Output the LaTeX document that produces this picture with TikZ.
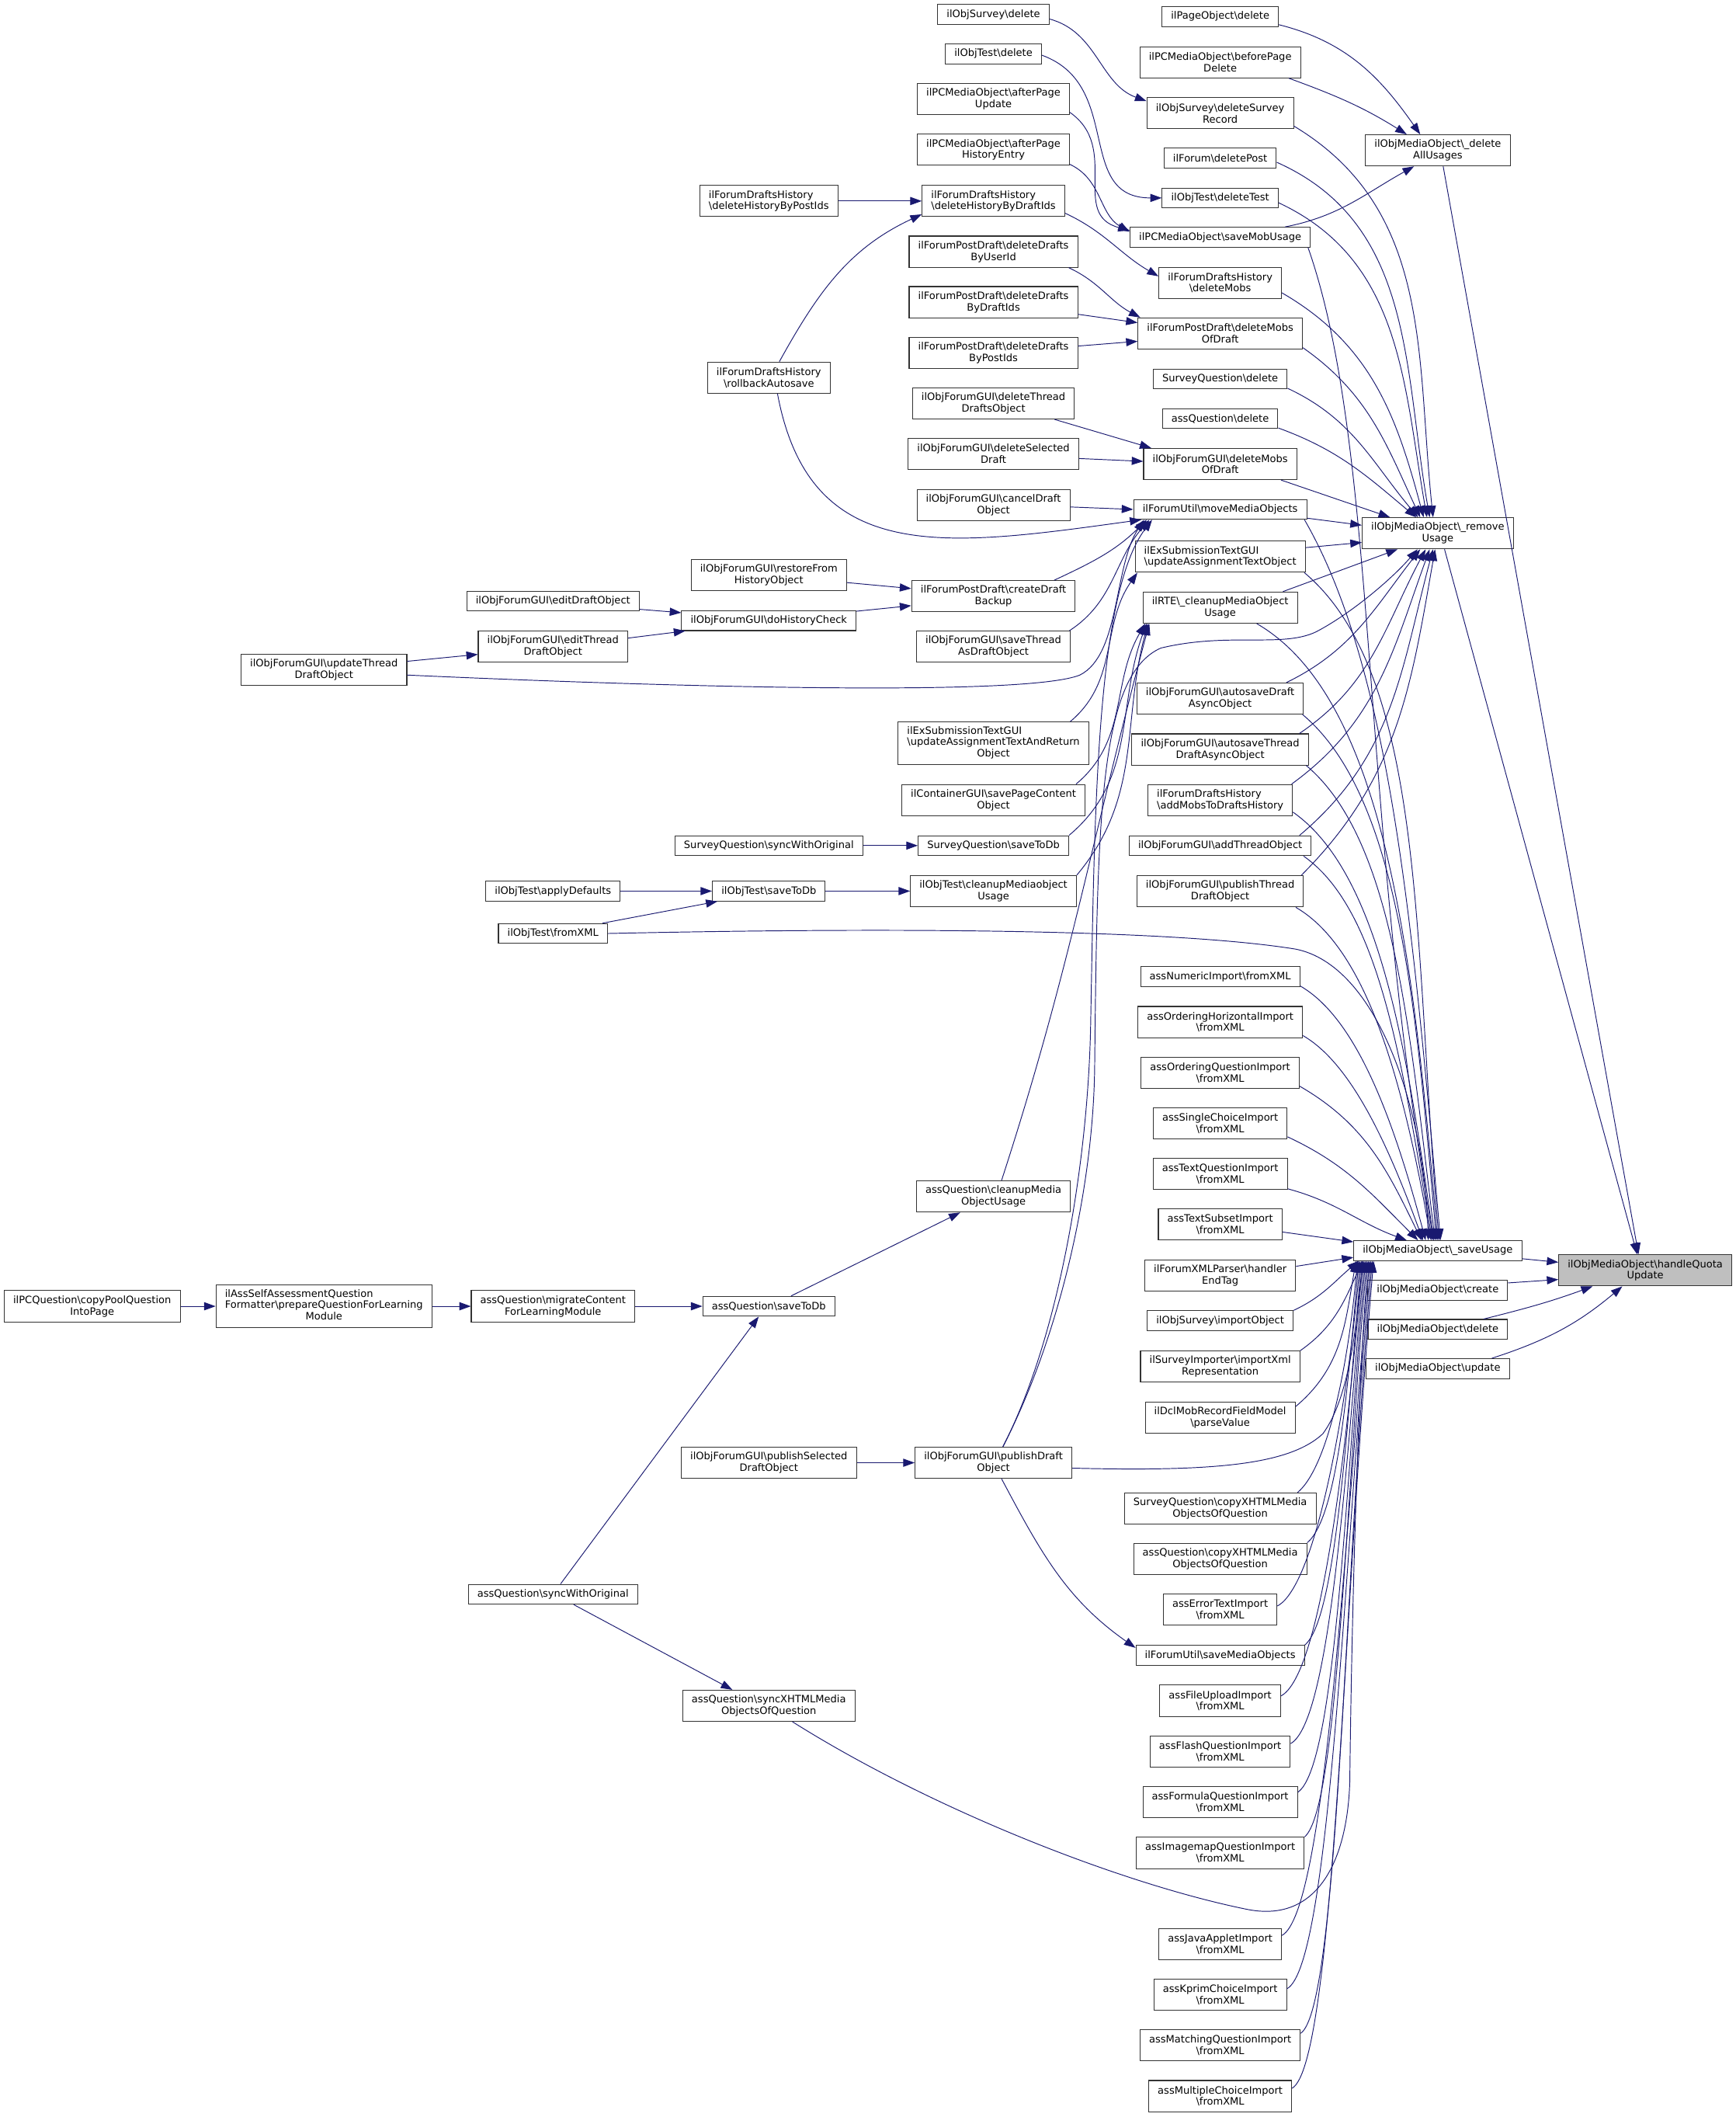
\documentclass[tikz,border=0pt]{standalone}
\usepackage{fontspec}
\setmainfont{DejaVu Sans}
\usetikzlibrary{positioning,arrows.meta}
\definecolor{edgeblue}{HTML}{191970}
\definecolor{hqgray}{HTML}{BFBFBF}
\newcommand{\bsl}{\textbackslash}
\tikzstyle{fn} = [draw=black!80, line width=0.6pt, fill=white, rectangle, inner xsep=6.7pt, inner ysep=1pt, minimum height=14.7pt, font=\fontsize{7.5}{8.5}\selectfont]
\tikzstyle{fn2} = [fn, minimum height=23.1pt, align=center]
\tikzstyle{fnl} = [fn2, align=left]
\tikzstyle{fn3} = [fn, minimum height=31.3pt]
\tikzstyle{call} = [draw=edgeblue, line width=0.55pt, -{Triangle[length=8.5pt,width=6pt]}]
\tikzstyle{tosave} = [out looseness=0.6, in looseness=1.1]

\begin{document}
\begin{tikzpicture}[x=1pt, y=1pt]
        \useasboundingbox (0,0) rectangle (1286,-1568);

        % the function and its direct callers
        \node [fn2, fill=hqgray] (hq) at (1218.9,-940.9) {ilObjMediaObject\bsl handleQuota\\Update};
        \node [fn2] (delAll) at (1065.2,-111.4) {ilObjMediaObject\bsl\_delete\\AllUsages};
        \node [fn2, below of=delAll, node distance=283.6pt] (remove) {ilObjMediaObject\bsl\_remove\\Usage};
        \node [fn] (save) at (1065.2,-926.3) {ilObjMediaObject\bsl\_saveUsage};
        \node [fn, below of=save, node distance=29.3pt] (create) {ilObjMediaObject\bsl create};
        \node [fn, below of=create, node distance=29pt] (delete) {ilObjMediaObject\bsl delete};
        \node [fn, below of=delete, node distance=29.1pt] (update) {ilObjMediaObject\bsl update};

        % callers of _deleteAllUsages, _removeUsage and _saveUsage
        \node [fn] (pageDel) at (904,-12.3) {ilPageObject\bsl delete};
        \node [fn2, below of=pageDel, node distance=33.8pt] (pcBefore) {ilPCMediaObject\bsl beforePage\\Delete};
        \node [fn2, below of=pcBefore, node distance=37.8pt] (survDelRec) {ilObjSurvey\bsl deleteSurvey\\Record};
        \node [fn, below of=survDelRec, node distance=33.3pt] (forumDelPost) {ilForum\bsl deletePost};
        \node [fn, below of=forumDelPost, node distance=29.4pt] (testDelTest) {ilObjTest\bsl deleteTest};
        \node [fn, below of=testDelTest, node distance=29.1pt] (pcSaveMob) {ilPCMediaObject\bsl saveMobUsage};
        \node [fn2, below of=pcSaveMob, node distance=33.8pt] (fdhDelMobs) {ilForumDraftsHistory\\\bsl deleteMobs};
        \node [fn2, below of=fdhDelMobs, node distance=37.5pt] (fpdDelMobs) {ilForumPostDraft\bsl deleteMobs\\OfDraft};
        \node [fn, below of=fpdDelMobs, node distance=33.6pt] (sqDelete) {SurveyQuestion\bsl delete};
        \node [fn, below of=sqDelete, node distance=29.4pt] (aqDelete) {assQuestion\bsl delete};
        \node [fn2, below of=aqDelete, node distance=33.7pt] (fguiDelMobs) {ilObjForumGUI\bsl deleteMobs\\OfDraft};
        \node [fn, below of=fguiDelMobs, node distance=33.6pt] (fuMove) {ilForumUtil\bsl moveMediaObjects};
        \node [fnl, below of=fuMove, node distance=35pt] (exUpdText) {ilExSubmissionTextGUI\\\bsl updateAssignmentTextObject};
        \node [fn2, below of=exUpdText, node distance=37.7pt] (rteClean) {ilRTE\bsl\_cleanupMediaObject\\Usage};
        \node [fn2, below of=rteClean, node distance=67.4pt] (autosaveDraft) {ilObjForumGUI\bsl autosaveDraft\\AsyncObject};
        \node [fn2, below of=autosaveDraft, node distance=37.7pt] (autosaveThread) {ilObjForumGUI\bsl autosaveThread\\DraftAsyncObject};
        \node [fnl, below of=autosaveThread, node distance=37.5pt] (fdhAddMobs) {ilForumDraftsHistory\\\bsl addMobsToDraftsHistory};
        \node [fn, below of=fdhAddMobs, node distance=33.8pt] (addThread) {ilObjForumGUI\bsl addThreadObject};
        \node [fn2, below of=addThread, node distance=33.8pt] (publishThread) {ilObjForumGUI\bsl publishThread\\DraftObject};
        \node [fn, below of=publishThread, node distance=63.1pt] (numImport) {assNumericImport\bsl fromXML};
        \node [fn2, below of=numImport, node distance=33.7pt] (ordHorz) {assOrderingHorizontalImport\\\bsl fromXML};
        \node [fn2, below of=ordHorz, node distance=37.5pt] (ordQ) {assOrderingQuestionImport\\\bsl fromXML};
        \node [fn2, below of=ordQ, node distance=37.5pt] (singleChoice) {assSingleChoiceImport\\\bsl fromXML};
        \node [fn2, below of=singleChoice, node distance=37.5pt] (textQ) {assTextQuestionImport\\\bsl fromXML};
        \node [fn2, below of=textQ, node distance=37.5pt] (textSubset) {assTextSubsetImport\\\bsl fromXML};
        \node [fn2, below of=textSubset, node distance=37.7pt] (forumXML) {ilForumXMLParser\bsl handler\\EndTag};
        \node [fn, below of=forumXML, node distance=33.5pt] (survImport) {ilObjSurvey\bsl importObject};
        \node [fn2, below of=survImport, node distance=34pt] (survImporter) {ilSurveyImporter\bsl importXml\\Representation};
        \node [fn2, below of=survImporter, node distance=37.6pt] (dclMob) {ilDclMobRecordFieldModel\\\bsl parseValue};
        \node [fn2, below of=dclMob, node distance=67.5pt] (sqCopy) {SurveyQuestion\bsl copyXHTMLMedia\\ObjectsOfQuestion};
        \node [fn2, below of=sqCopy, node distance=37.2pt] (aqCopy) {assQuestion\bsl copyXHTMLMedia\\ObjectsOfQuestion};
        \node [fn2, below of=aqCopy, node distance=37.7pt] (errText) {assErrorTextImport\\\bsl fromXML};
        \node [fn, below of=errText, node distance=33.8pt] (fuSaveMedia) {ilForumUtil\bsl saveMediaObjects};
        \node [fn2, below of=fuSaveMedia, node distance=33.7pt] (fileUpload) {assFileUploadImport\\\bsl fromXML};
        \node [fn2, below of=fileUpload, node distance=37.7pt] (flash) {assFlashQuestionImport\\\bsl fromXML};
        \node [fn2, below of=flash, node distance=37.5pt] (formula) {assFormulaQuestionImport\\\bsl fromXML};
        \node [fn2, below of=formula, node distance=37.5pt] (imagemap) {assImagemapQuestionImport\\\bsl fromXML};
        \node [fn2, below of=imagemap, node distance=67.6pt] (javaApplet) {assJavaAppletImport\\\bsl fromXML};
        \node [fn2, below of=javaApplet, node distance=37.3pt] (kprim) {assKprimChoiceImport\\\bsl fromXML};
        \node [fn2, below of=kprim, node distance=37.7pt] (matching) {assMatchingQuestionImport\\\bsl fromXML};
        \node [fn2, below of=matching, node distance=37.5pt] (multipleChoice) {assMultipleChoiceImport\\\bsl fromXML};

        % next column to the left
        \node [fn] (survDelete) at (736,-10.7) {ilObjSurvey\bsl delete};
        \node [fn, below of=survDelete, node distance=29.2pt] (testDelete) {ilObjTest\bsl delete};
        \node [fn2, below of=testDelete, node distance=33.5pt] (pcAfterUpdate) {ilPCMediaObject\bsl afterPage\\Update};
        \node [fn2, below of=pcAfterUpdate, node distance=37.5pt] (pcAfterHist) {ilPCMediaObject\bsl afterPage\\HistoryEntry};
        \node [fnl, below of=pcAfterHist, node distance=38pt] (fdhDelByDraft) {ilForumDraftsHistory\\\bsl deleteHistoryByDraftIds};
        \node [fn2, below of=fdhDelByDraft, node distance=37.5pt] (fpdByUser) {ilForumPostDraft\bsl deleteDrafts\\ByUserId};
        \node [fn2, below of=fpdByUser, node distance=37.4pt] (fpdByDraft) {ilForumPostDraft\bsl deleteDrafts\\ByDraftIds};
        \node [fn2, below of=fpdByDraft, node distance=37.5pt] (fpdByPost) {ilForumPostDraft\bsl deleteDrafts\\ByPostIds};
        \node [fn2, below of=fpdByPost, node distance=37.5pt] (fguiDelThread) {ilObjForumGUI\bsl deleteThread\\DraftsObject};
        \node [fn2, below of=fguiDelThread, node distance=37.4pt] (fguiDelSel) {ilObjForumGUI\bsl deleteSelected\\Draft};
        \node [fn2, below of=fguiDelSel, node distance=37.8pt] (fguiCancel) {ilObjForumGUI\bsl cancelDraft\\Object};
        \node [fn2, below of=fguiCancel, node distance=67.6pt] (fpdCreateBackup) {ilForumPostDraft\bsl createDraft\\Backup};
        \node [fn2, below of=fpdCreateBackup, node distance=37.4pt] (fguiSaveThread) {ilObjForumGUI\bsl saveThread\\AsDraftObject};
        \node [fn3, below of=fguiSaveThread, node distance=71.4pt] (exUpdTextReturn) {\begin{tabular}{@{}l@{}}ilExSubmissionTextGUI\\\bsl updateAssignmentTextAndReturn\\\multicolumn{1}{@{}c@{}}{Object}\end{tabular}};
        \node [fn2, below of=exUpdTextReturn, node distance=42.2pt] (containerSave) {ilContainerGUI\bsl savePageContent\\Object};
        \node [fn, below of=containerSave, node distance=33.7pt] (sqSaveToDb) {SurveyQuestion\bsl saveToDb};
        \node [fn2, below of=sqSaveToDb, node distance=33.7pt] (testCleanup) {ilObjTest\bsl cleanupMediaobject\\Usage};
        \node [fn2, below of=testCleanup, node distance=226.2pt] (aqCleanup) {assQuestion\bsl cleanupMedia\\ObjectUsage};
        \node [fn2, below of=aqCleanup, node distance=197.2pt] (fguiPublishDraft) {ilObjForumGUI\bsl publishDraft\\Object};

        \node [fnl, left of=fdhDelByDraft, node distance=166.4pt] (fdhDelByPost) {ilForumDraftsHistory\\\bsl deleteHistoryByPostIds};
        \node [fn2, below of=fdhDelByPost, node distance=130.8pt] (fdhRollback) {ilForumDraftsHistory\\\bsl rollbackAutosave};
        \node [fn2, below of=fdhRollback, node distance=146.3pt] (fguiRestore) {ilObjForumGUI\bsl restoreFrom\\HistoryObject};
        \node [fn, below of=fguiRestore, node distance=33.7pt] (fguiHistCheck) {ilObjForumGUI\bsl doHistoryCheck};
        \node [fn, left of=sqSaveToDb, node distance=166.4pt] (sqSync) {SurveyQuestion\bsl syncWithOriginal};
        \node [fn, left of=testCleanup, node distance=166.4pt] (testSaveToDb) {ilObjTest\bsl saveToDb};
        \node [fn] (aqSaveToDb) at (569.6,-967.5) {assQuestion\bsl saveToDb};
        \node [fn2, left of=fguiPublishDraft, node distance=166.4pt] (fguiPublishSel) {ilObjForumGUI\bsl publishSelected\\DraftObject};
        \node [fn2, below of=fguiPublishSel, node distance=180pt] (aqSyncXHTML) {assQuestion\bsl syncXHTMLMedia\\ObjectsOfQuestion};

        \node [fn] (fguiEditDraft) at (409.7,-445.3) {ilObjForumGUI\bsl editDraftObject};
        \node [fn2, below of=fguiEditDraft, node distance=33.7pt] (fguiEditThread) {ilObjForumGUI\bsl editThread\\DraftObject};
        \node [fn, left of=testSaveToDb, node distance=159.9pt] (testApply) {ilObjTest\bsl applyDefaults};
        \node [fn, below of=testApply, node distance=31.4pt] (testFromXML) {ilObjTest\bsl fromXML};
        \node [fn2, left of=aqSaveToDb, node distance=159.9pt] (aqMigrate) {assQuestion\bsl migrateContent\\ForLearningModule};
        \node [fn, below of=aqMigrate, node distance=213.3pt] (aqSyncOrig) {assQuestion\bsl syncWithOriginal};

        \node [fn2] (fguiUpdateThread) at (240,-496) {ilObjForumGUI\bsl updateThread\\DraftObject};
        \node [fn3, left of=aqMigrate, node distance=169.7pt] (selfAssess) {\begin{tabular}{@{}l@{}}ilAssSelfAssessmentQuestion\\Formatter\bsl prepareQuestionForLearning\\\multicolumn{1}{@{}c@{}}{Module}\end{tabular}};
        \node [fn2, left of=selfAssess, node distance=171.7pt] (pcQuestion) {ilPCQuestion\bsl copyPoolQuestion\\IntoPage};

        % into handleQuotaUpdate
        \draw[call] ([xshift=4pt]delAll.south) -- ([xshift=-5pt]hq.north);
        \draw[call] ([xshift=5pt]remove.south) -- ([xshift=-6pt]hq.north);
        \draw[call] ([yshift=-6pt]save.east) -- ([yshift=6pt]hq.west);
        \draw[call] ([yshift=5.4pt]create.east) -- ([yshift=-6.8pt]hq.west);
        \draw[call] ([xshift=34pt]delete.north) to[out=14,in=-160] ([xshift=-39pt]hq.south);
        \draw[call] ([xshift=40pt]update.north) to[out=18,in=-140] ([xshift=-17pt]hq.south);

        % into _deleteAllUsages
        \draw[call] ([yshift=-6pt]pageDel.east) to[out=-14,in=125] ([xshift=-13pt]delAll.north);
        \draw[call] ([xshift=-9pt]pcBefore.south east) to[out=-20,in=148] ([xshift=-23pt]delAll.north);
        \draw[call] ([xshift=-19pt]pcSaveMob.north east) to[out=11,in=-151] ([xshift=-17.6pt]delAll.south);

        % into _removeUsage
        \draw[call] ([yshift=-9.5pt]survDelRec.east) to[out=-31,in=96] ([xshift=-3.5pt]remove.north);
        \draw[call] ([yshift=-3pt]forumDelPost.east) to[out=-24,in=100] ([xshift=-6pt]remove.north);
        \draw[call] ([yshift=-3.6pt]testDelTest.east) to[out=-25,in=100] ([xshift=-8pt]remove.north);
        \draw[call] ([yshift=-7.4pt]fdhDelMobs.east) to[out=-30,in=105] ([xshift=-10.5pt]remove.north);
        \draw[call] ([yshift=-10.5pt]fpdDelMobs.east) to[out=-35,in=115] ([xshift=-13pt]remove.north);
        \draw[call] ([yshift=-7pt]sqDelete.east) to[out=-25,in=130] ([xshift=-14.6pt]remove.north);
        \draw[call] ([yshift=-7pt]aqDelete.east) to[out=-20,in=140] ([xshift=-16pt]remove.north);
        \draw[call] ([xshift=-12pt]fguiDelMobs.south east) -- ([xshift=-35.4pt]remove.north);
        \draw[call] ([yshift=-6.5pt]fuMove.east) -- ([yshift=6pt]remove.west);
        \draw[call] ([yshift=6.7pt]exUpdText.east) -- ([yshift=-6.8pt]remove.west);
        \draw[call] ([xshift=-11pt]rteClean.north east) -- ([xshift=-29.8pt]remove.south);
        \draw[call] ([xshift=-13pt]autosaveDraft.north east) to[out=26,in=232] ([xshift=-13pt]remove.south);
        \draw[call] ([xshift=-7pt]autosaveThread.north east) to[out=34,in=242] ([xshift=-9pt]remove.south);
        \draw[call] ([xshift=-1pt]fdhAddMobs.north east) to[out=36,in=250] ([xshift=-6pt]remove.south);
        \draw[call] ([xshift=-9pt]addThread.north east) to[out=40,in=255] ([xshift=-3.5pt]remove.south);
        \draw[call] ([xshift=-2pt]publishThread.north east) to[out=45,in=260] ([xshift=-2pt]remove.south);
        \draw[call] ([xshift=7pt]fguiPublishDraft.north) .. controls (785,-990) and (810,-880) .. (811,-790)
            .. controls (813,-600) and (815,-500) .. (860,-480)
            .. controls (910,-468) and (950,-480) .. (975,-468)
            .. controls (1000,-455) and (1030,-430) .. ([xshift=-15pt]remove.south);

        % into _saveUsage, from above
        \draw[call] ([xshift=-2pt]pcSaveMob.south east) .. controls (1022,-334) and (1007,-605) .. ([xshift=-3pt]save.north);
        \draw[call] ([xshift=-2pt]fuMove.south east) to[tosave, out=-60, in=95] ([xshift=2pt]save.north);
        \draw[call] ([xshift=-1pt]exUpdText.south east) to[tosave, out=-40, in=95] ([xshift=1pt]save.north);
        \draw[call] ([xshift=27pt]rteClean.south) to[tosave, out=-30, in=95] (save.north);
        \draw[call] ([xshift=-1pt]autosaveDraft.south east) to[tosave, out=-40, in=95] ([xshift=-1pt]save.north);
        \draw[call] ([xshift=-2pt]autosaveThread.south east) to[tosave, out=-40, in=97] ([xshift=-2pt]save.north);
        \draw[call] ([yshift=-8.9pt]fdhAddMobs.east) to[tosave, out=-35, in=98] ([xshift=-3pt]save.north);
        \draw[call] ([xshift=-6pt]addThread.south east) to[tosave, out=-35, in=100] ([xshift=-4pt]save.north);
        \draw[call] ([xshift=-6pt]publishThread.south east) to[tosave, out=-30, in=100] ([xshift=-5pt]save.north);
        \draw[call] (testFromXML.east) .. controls (700,-686) and (880,-690) .. (960,-703)
            .. controls (1020,-715) and (1055,-820) .. ([xshift=-7pt]save.north);
        \draw[call] ([yshift=-7pt]numImport.east) to[tosave, out=-30, in=105] ([xshift=-9pt]save.north);
        \draw[call] ([yshift=-10pt]ordHorz.east) to[tosave, out=-30, in=110] ([xshift=-11pt]save.north);
        \draw[call] ([yshift=-10pt]ordQ.east) to[out=-30, in=116] ([xshift=-12pt]save.north);
        \draw[call] ([yshift=-10pt]singleChoice.east) to[out=-25, in=135] ([xshift=-14.6pt]save.north);
        \draw[call] ([yshift=-11pt]textQ.east) to[out=-15, in=160] ([xshift=-23pt]save.north);
        \draw[call] ([yshift=-5.5pt]textSubset.east) -- ([yshift=6.5pt]save.west);

        % into _saveUsage, from below
        \draw[call] ([yshift=6.8pt]forumXML.east) -- ([yshift=-5pt]save.west);
        \draw[call] (survImport.north east) to[out=25, in=-140] ([xshift=4pt]save.south west);
        \draw[call] (survImporter.north east) to[out=35, in=-115] ([xshift=7pt]save.south west);
        \draw[call] ([yshift=8pt]dclMob.east) to[out=40, in=-100] ([xshift=2pt]save.south west);
        \draw[call] ([yshift=-4pt]fguiPublishDraft.east) .. controls (900,-1090) and (955,-1085) .. (980,-1062)
            .. controls (1000,-1035) and (1005,-980) .. ([xshift=7pt]save.south west);
        \draw[call] ([xshift=-14pt]sqCopy.north east) to[out=40, in=-95, out distance=30pt, in distance=75pt] ([xshift=3pt]save.south west);
        \draw[call] (aqCopy.north east) to[out=40, in=-95, out distance=30pt, in distance=90pt] ([xshift=4pt]save.south west);
        \draw[call] ([yshift=2.7pt]errText.east) to[out=28, in=-95, out distance=32pt, in distance=110pt] ([xshift=5pt]save.south west);
        \draw[call] (fuSaveMedia.north east) to[out=40, in=-95, out distance=30pt, in distance=125pt] ([xshift=6pt]save.south west);
        \draw[call] ([yshift=3.6pt]fileUpload.east) to[out=28, in=-95, out distance=34pt, in distance=140pt] ([xshift=7pt]save.south west);
        \draw[call] ([yshift=6pt]flash.east) to[out=30, in=-95, out distance=34pt, in distance=155pt] ([xshift=8pt]save.south west);
        \draw[call] ([yshift=7.5pt]formula.east) to[out=35, in=-95, out distance=34pt, in distance=170pt] ([xshift=9pt]save.south west);
        \draw[call] (imagemap.north east) to[out=40, in=-95, out distance=32pt, in distance=185pt] ([xshift=10pt]save.south west);
        \draw[call] ([xshift=17.5pt]aqSyncXHTML.south) .. controls (690,-1340) and (830,-1395) .. (923,-1414)
            .. controls (975,-1425) and (998,-1380) .. (1000,-1320)
            .. controls (1002,-1150) and (1008,-1000) .. ([xshift=11pt]save.south west);
        \draw[call] ([yshift=6.5pt]javaApplet.east) to[out=28, in=-95, out distance=36pt, in distance=215pt] ([xshift=12pt]save.south west);
        \draw[call] ([yshift=4.3pt]kprim.east) to[out=28, in=-95, out distance=36pt, in distance=230pt] ([xshift=13pt]save.south west);
        \draw[call] ([yshift=9pt]matching.east) to[out=35, in=-95, out distance=34pt, in distance=245pt] ([xshift=14pt]save.south west);
        \draw[call] ([yshift=5.8pt]multipleChoice.east) to[out=30, in=-95, out distance=36pt, in distance=260pt] ([xshift=15pt]save.south west);

        % further callers
        \draw[call] ([yshift=-3.4pt]survDelete.east) to[out=-15,in=160] ([yshift=9pt]survDelRec.west);
        \draw[call] ([yshift=-1pt]testDelete.east) to[out=-20,in=180,looseness=1.2] (testDelTest.west);
        \draw[call] ([yshift=2pt]pcAfterUpdate.south east) to[out=-35,in=165,looseness=1.2] ([yshift=5pt]pcSaveMob.west);
        \draw[call] ([yshift=1pt]pcAfterHist.south east) to[out=-25,in=150] ([yshift=4pt]pcSaveMob.west);
        \draw[call] (fdhDelByPost) -- (fdhDelByDraft);
        \draw[call] ([xshift=7.8pt]fdhRollback.north) to[out=61,in=205] ([yshift=2pt]fdhDelByDraft.south west);
        \draw[call] ([xshift=6.4pt]fdhRollback.south) .. controls (600,-420) and (700,-405) .. ([xshift=6pt]fuMove.south west);
        \draw[call] ([yshift=-9pt]fdhDelByDraft.east) to[out=-25,in=150] ([yshift=-7pt]fdhDelMobs.north west);
        \draw[call] ([xshift=-7pt]fpdByUser.south east) to[out=-25,in=152] ([xshift=2pt]fpdDelMobs.north west);
        \draw[call] ([yshift=-9pt]fpdByDraft.east) -- ([yshift=8pt]fpdDelMobs.west);
        \draw[call] ([yshift=5pt]fpdByPost.east) -- ([yshift=-5.8pt]fpdDelMobs.west);
        \draw[call] ([xshift=-15pt]fguiDelThread.south east) -- ([xshift=6pt]fguiDelMobs.north west);
        \draw[call] ([yshift=-3.4pt]fguiDelSel.east) -- ([yshift=2pt]fguiDelMobs.west);
        \draw[call] ([yshift=-1.5pt]fguiCancel.east) -- (fuMove.west);
        \draw[call] ([yshift=-5.5pt]fguiRestore.east) -- ([yshift=5.7pt]fpdCreateBackup.west);
        \draw[call] ([yshift=7pt]fguiHistCheck.east) -- ([yshift=-7pt]fpdCreateBackup.west);
        \draw[call] ([yshift=-6pt]fguiEditDraft.east) -- ([yshift=5.9pt]fguiHistCheck.west);
        \draw[call] ([yshift=6.4pt]fguiEditThread.east) -- ([xshift=3pt]fguiHistCheck.south west);
        \draw[call] ([yshift=6.2pt]fguiUpdateThread.east) -- ([yshift=-5.7pt]fguiEditThread.west);
        \draw[call] ([yshift=-4pt]fguiUpdateThread.east) .. controls (500,-509) and (760,-516) .. (800,-500)
            .. controls (830,-485) and (825,-420) .. ([xshift=8pt]fuMove.south west);
        \draw[call] ([xshift=45pt]fpdCreateBackup.north) to[out=25,in=-135] ([xshift=10pt]fuMove.south west);
        \draw[call] ([xshift=-1pt]fguiSaveThread.north east) to[out=33,in=-131] ([xshift=12pt]fuMove.south west);
        \draw[call] ([xshift=7pt]fguiPublishDraft.north) .. controls (785,-990) and (806,-860) .. (808,-760)
            .. controls (811,-600) and (812,-440) .. ([xshift=14pt]fuMove.south west);
        \draw[call] ([xshift=-14pt]exUpdTextReturn.north east) to[out=40,in=-125] ([xshift=2pt]exUpdText.south west);
        \draw[call] ([xshift=-7pt]containerSave.north east) to[out=40,in=-120] ([xshift=2pt]rteClean.south west);
        \draw[call] (sqSaveToDb.north east) to[out=40,in=-110] ([xshift=3pt]rteClean.south west);
        \draw[call] (testCleanup.north east) to[out=50,in=-105] ([xshift=4pt]rteClean.south west);
        \draw[call] ([xshift=6pt]aqCleanup.north) to[out=72,in=-105] ([xshift=5pt]rteClean.south west);
        \draw[call] (sqSync) -- (sqSaveToDb);
        \draw[call] (testApply) -- (testSaveToDb);
        \draw[call] ([xshift=-4pt]testFromXML.north east) -- ([xshift=4pt]testSaveToDb.south west);
        \draw[call] (testSaveToDb) -- (testCleanup);
        \draw[call] ([xshift=16.5pt]aqSaveToDb.north) -- ([xshift=-24.6pt]aqCleanup.south);
        \draw[call] (aqMigrate) -- (aqSaveToDb);
        \draw[call] (selfAssess) -- (aqMigrate);
        \draw[call] (pcQuestion) -- (selfAssess);
        \draw[call] ([xshift=5.6pt]aqSyncOrig.north) -- ([xshift=-7.5pt]aqSaveToDb.south);
        \draw[call] ([xshift=15.3pt]aqSyncOrig.south) -- ([xshift=-27pt]aqSyncXHTML.north);
        \draw[call] (fguiPublishSel) -- (fguiPublishDraft);
        \draw[call] ([xshift=6pt]fguiPublishDraft.south) to[out=-62,in=145] ([yshift=5.5pt]fuSaveMedia.west);
\end{tikzpicture}
\end{document}
